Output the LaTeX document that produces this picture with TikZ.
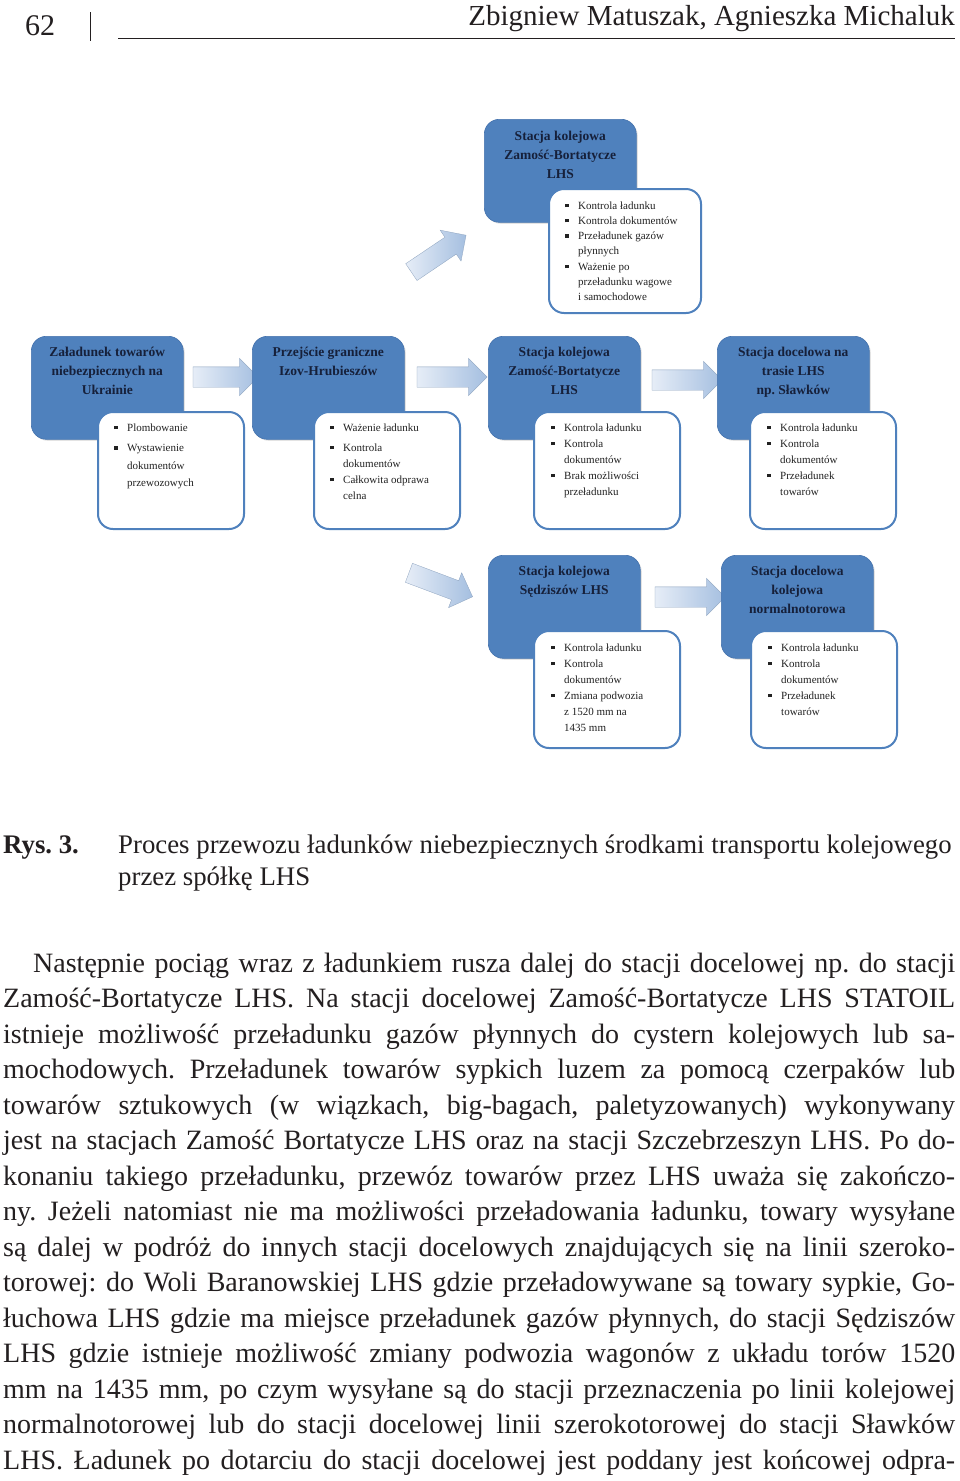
\documentclass[tikz,border=0pt]{standalone}
\usepackage{fontspec}
\setmainfont{Liberation Serif}
\usetikzlibrary{shapes.arrows,shadows}
\definecolor{boxblue}{HTML}{4F81BD}
\definecolor{boxedge}{HTML}{4472AD}
\definecolor{titlecol}{HTML}{16203A}
\definecolor{arrowA}{HTML}{E6EDF7}
\definecolor{arrowB}{HTML}{A5BFE0}
\definecolor{listcol}{HTML}{222222}
\definecolor{bodycol}{HTML}{231F20}
\newcommand\bitem[1]{\par\noindent\hangindent=13pt\hangafter=1\makebox[13pt][l]{\raisebox{2pt}{\rule{3.5pt}{3.5pt}}}#1}
\newcommand\jline[1]{\hbox to 952pt{#1}}
\newcommand\titlebox[1]{\vtop{\hsize=150pt\centering #1\par}}
\newcommand\listbox[1]{\vtop{\hsize=140pt\raggedright #1\par}}
\frenchspacing
\begin{document}
\begin{tikzpicture}[x=1pt,y=-1pt,
  bluebox/.style={draw=boxedge, line width=0.6pt, fill=boxblue, rounded corners=15pt,
    minimum width=152pt, minimum height=103pt, anchor=north west, inner sep=0pt,
    drop shadow={opacity=0.22,shadow xshift=1.5pt,shadow yshift=-1.5pt}},
  whitebox/.style={draw=boxblue, line width=2pt, fill=white, rounded corners=15pt,
    minimum width=146pt, minimum height=117pt, anchor=north west, inner sep=0pt},
  titletext/.style={font=\fontsize{13.5}{19}\selectfont\bfseries, text=titlecol,
    anchor=base, inner sep=0pt},
  listtext/.style={font=\fontsize{11}{16}\selectfont, text=listcol,
    anchor=base west, inner sep=0pt},
  blockarrow/.style={single arrow, minimum height=#1, single arrow head extend=8.5pt,
    inner xsep=0pt, inner ysep=10pt, left color=arrowA, right color=arrowB,
    draw=arrowB!85!black, line width=0.3pt, anchor=center},
  bodytext/.style={font=\fontsize{28}{35.5}\selectfont, text=bodycol, inner sep=0pt},
]
\useasboundingbox (0,0) rectangle (960,1481);
\fill[white] (0,0) rectangle (960,1481);

% ---------- header ----------
\node[bodytext, font=\fontsize{30}{30}\selectfont, anchor=base west] (pg) at (25,35) {62};
\coordinate (bar1) at (90,12);
\coordinate (bar2) at (90,41);
\draw[line width=0.8pt, bodycol] (bar1) -- (bar2);
\coordinate (hl1) at (118,38);
\coordinate (hl2) at (955,38);
\draw[line width=1pt, bodycol] (hl1) -- (hl2);
\node[bodytext, font=\fontsize{29}{29}\selectfont, anchor=base east] (auth) at (955,25) {Zbigniew Matuszak, Agnieszka Michaluk};

% ---------- arrows ----------
\node[blockarrow=65pt] (a1) at (220.5,377) {};
\node[blockarrow=70pt] (a2) at (447,377) {};
\node[blockarrow=70pt] (a3) at (682,380) {};
\node[blockarrow=70pt] (a4) at (685,597) {};
\node[blockarrow=66pt, rotate=34] (d1) at (434.5,256.5) {};
\node[blockarrow=68pt, rotate=-20.6] (d2) at (436,583) {};

% ---------- top unit ----------
\node[bluebox] (bt) at (484,119) {};
\node[titletext] (tt) at ([yshift=-21pt]bt.north) {\titlebox{Stacja kolejowa\\Zamość-Bortatycze\\LHS}};
\node[whitebox, minimum width=152pt, minimum height=124pt] (wt) at (548,188) {};
\node[listtext, font=\fontsize{11}{15.3}\selectfont] (lt) at ([shift={(17pt,-21pt)}]wt.north west) {\listbox{%
\bitem{Kontrola ładunku}\bitem{Kontrola dokumentów}\bitem{Przeładunek gazów\newline płynnych}\bitem{Ważenie po\newline przeładunku wagowe\newline i samochodowe}}};

% ---------- unit 1 ----------
\node[bluebox] (b1) at (31,336) {};
\node[titletext] (t1) at ([yshift=-20pt]b1.north) {\titlebox{Załadunek towarów\\niebezpiecznych na\\Ukrainie}};
\node[whitebox] (w1) at (97,411) {};
\node[listtext, font=\fontsize{11}{17.5}\selectfont] (l1) at ([shift={(17pt,-20pt)}]w1.north west) {\listbox{%
\bitem{Plombowanie}\par\vspace{3pt}\bitem{Wystawienie\newline dokumentów\newline przewozowych}}};

% ---------- unit 2 ----------
\node[bluebox] (b2) at (252,336) {};
\node[titletext] (t2) at ([yshift=-20pt]b2.north) {\titlebox{Przejście graniczne\\Izov-Hrubieszów}};
\node[whitebox] (w2) at (313,411) {};
\node[listtext] (l2) at ([shift={(17pt,-20pt)}]w2.north west) {\listbox{%
\bitem{Ważenie ładunku}\par\vspace{4pt}\bitem{Kontrola\newline dokumentów}\bitem{Całkowita odprawa\newline celna}}};

% ---------- unit 3 ----------
\node[bluebox] (b3) at (488,336) {};
\node[titletext] (t3) at ([yshift=-20pt]b3.north) {\titlebox{Stacja kolejowa\\Zamość-Bortatycze\\LHS}};
\node[whitebox] (w3) at (533,411) {};
\node[listtext] (l3) at ([shift={(18pt,-20pt)}]w3.north west) {\listbox{%
\bitem{Kontrola ładunku}\bitem{Kontrola\newline dokumentów}\bitem{Brak możliwości\newline przeładunku}}};

% ---------- unit 4 ----------
\node[bluebox] (b4) at (717,336) {};
\node[titletext] (t4) at ([yshift=-20pt]b4.north) {\titlebox{Stacja docelowa na\\trasie LHS\\np. Sławków}};
\node[whitebox] (w4) at (749,411) {};
\node[listtext] (l4) at ([shift={(18pt,-20pt)}]w4.north west) {\listbox{%
\bitem{Kontrola ładunku}\bitem{Kontrola\newline dokumentów}\bitem{Przeładunek\newline towarów}}};

% ---------- unit 5 ----------
\node[bluebox] (b5) at (488,555) {};
\node[titletext] (t5) at ([yshift=-20pt]b5.north) {\titlebox{Stacja kolejowa\\Sędziszów LHS}};
\node[whitebox] (w5) at (533,630) {};
\node[listtext] (l5) at ([shift={(18pt,-21pt)}]w5.north west) {\listbox{%
\bitem{Kontrola ładunku}\bitem{Kontrola\newline dokumentów}\bitem{Zmiana podwozia\newline z 1520 mm na\newline 1435 mm}}};

% ---------- unit 6 ----------
\node[bluebox] (b6) at (721,555) {};
\node[titletext] (t6) at ([yshift=-20pt]b6.north) {\titlebox{Stacja docelowa\\kolejowa\\normalnotorowa}};
\node[whitebox] (w6) at (750,630) {};
\node[listtext] (l6) at ([shift={(18pt,-21pt)}]w6.north west) {\listbox{%
\bitem{Kontrola ładunku}\bitem{Kontrola\newline dokumentów}\bitem{Przeładunek\newline towarów}}};

% ---------- caption ----------
\node[bodytext, font=\fontsize{26.8}{33}\selectfont\bfseries, anchor=base west] (rys) at (3,853) {Rys. 3.};
\node[bodytext, font=\fontsize{26.8}{32}\selectfont, anchor=base west] (cap) at (118,853)
  {\vtop{\hsize=900pt\raggedright\noindent Proces przewozu ładunków niebezpiecznych środkami transportu kolejowego\\przez spółkę LHS\par}};

% ---------- body text ----------
\node[bodytext, anchor=base west] (body) at (3,972) {\vtop{\baselineskip=35.5pt
\jline{\hskip 30pt Następnie pociąg wraz z ładunkiem rusza dalej do stacji docelowej np. do stacji}
\jline{Zamość-Bortatycze LHS. Na stacji docelowej Zamość-Bortatycze LHS STATOIL}
\jline{istnieje możliwość przeładunku gazów płynnych do cystern kolejowych lub sa-}
\jline{mochodowych. Przeładunek towarów sypkich luzem za pomocą czerpaków lub}
\jline{towarów sztukowych (w wiązkach, big-bagach, paletyzowanych) wykonywany}
\jline{jest na stacjach Zamość Bortatycze LHS oraz na stacji Szczebrzeszyn LHS. Po do-}
\jline{konaniu takiego przeładunku, przewóz towarów przez LHS uważa się zakończo-}
\jline{ny. Jeżeli natomiast nie ma możliwości przeładowania ładunku, towary wysyłane}
\jline{są dalej w podróż do innych stacji docelowych znajdujących się na linii szeroko-}
\jline{torowej: do Woli Baranowskiej LHS gdzie przeładowywane są towary sypkie, Go-}
\jline{łuchowa LHS gdzie ma miejsce przeładunek gazów płynnych, do stacji Sędziszów}
\jline{LHS gdzie istnieje możliwość zmiany podwozia wagonów z układu torów 1520}
\jline{mm na 1435 mm, po czym wysyłane są do stacji przeznaczenia po linii kolejowej}
\jline{normalnotorowej lub do stacji docelowej linii szerokotorowej do stacji Sławków}
\jline{LHS. Ładunek po dotarciu do stacji docelowej jest poddany jest końcowej odpra-}}};
\end{tikzpicture}
\end{document}
